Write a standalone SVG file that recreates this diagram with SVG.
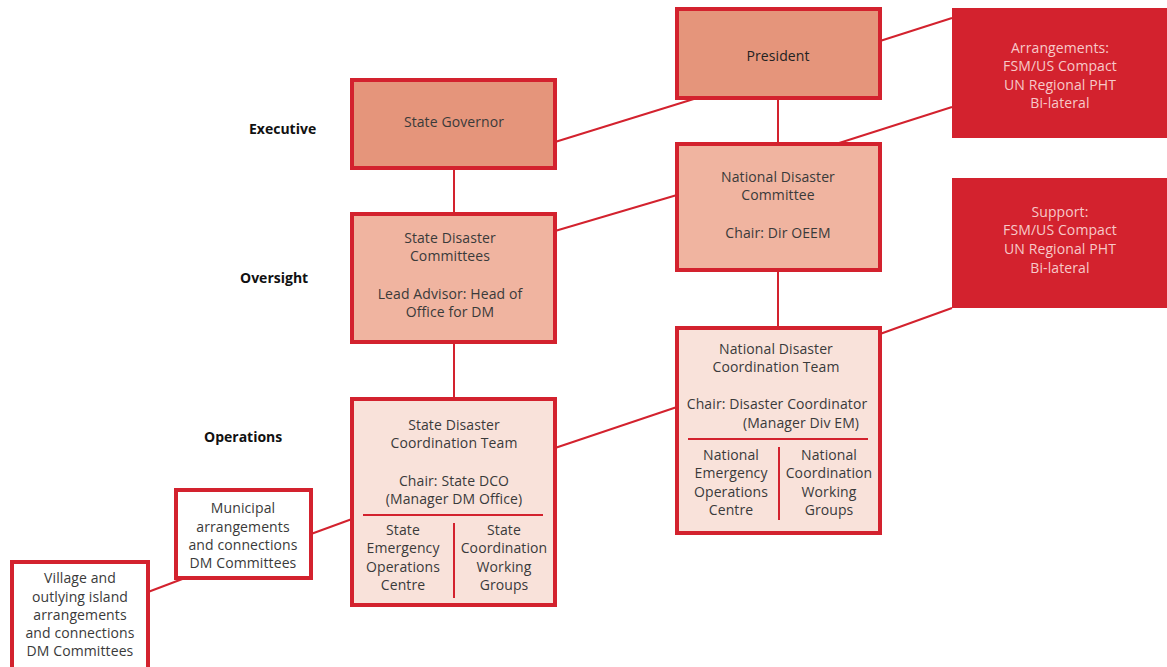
<svg xmlns="http://www.w3.org/2000/svg" width="1167" height="667" viewBox="0 0 1167 667">
<style>
.box{stroke:#d3222e;stroke-width:4}
.l1{fill:#e5957b}.l2{fill:#f0b4a0}.l3{fill:#f9e2da}
.red{fill:#d3222e}
text{font-family:"Open Sans",Lato,"Liberation Sans",sans-serif;font-size:14px;letter-spacing:0.1px;fill:#3a3a3a;text-anchor:middle}
.w{fill:#f7c9c9}
.lab{font-weight:bold;fill:#111;text-anchor:start;letter-spacing:0}
.con{stroke:#d3222e;stroke-width:2;fill:none}
</style>
<rect width="1167" height="667" fill="#fff"/>
<g id="connectors">
<line class="con" x1="880" y1="41" x2="952" y2="18"/>
<line class="con" x1="836" y1="144" x2="952" y2="107"/>
<line class="con" x1="880" y1="334" x2="952" y2="308"/>
<line class="con" x1="778" y1="98" x2="778" y2="144"/>
<line class="con" x1="778" y1="270" x2="778" y2="328"/>
<line class="con" x1="555" y1="142" x2="697" y2="98"/>
<line class="con" x1="454" y1="168" x2="454" y2="214"/>
<line class="con" x1="555" y1="231" x2="677" y2="195"/>
<line class="con" x1="454" y1="342" x2="454" y2="399"/>
<line class="con" x1="555" y1="448" x2="677" y2="407"/>
<line class="con" x1="352" y1="519" x2="311" y2="534"/>
<line class="con" x1="185" y1="578" x2="148" y2="592"/>
</g>
<g id="labels">
<text class="lab" x="249" y="134">Executive</text>
<text class="lab" x="240" y="283">Oversight</text>
<text class="lab" x="204" y="442">Operations</text>
</g>
<g id="president">
<rect class="box l1" x="677" y="9" width="203" height="89"/>
<text x="778" y="61" style="fill:#222">President</text>
</g>
<g id="governor">
<rect class="box l1" x="352" y="80" width="203" height="88"/>
<text x="454" y="127">State Governor</text>
</g>
<g id="ndc">
<rect class="box l2" x="677" y="144" width="203" height="126"/>
<text x="778" y="182">National Disaster</text>
<text x="778" y="200">Committee</text>
<text x="778" y="238">Chair: Dir OEEM</text>
</g>
<g id="sdc">
<rect class="box l2" x="352" y="214" width="203" height="128"/>
<text x="450" y="243">State Disaster</text>
<text x="450" y="261">Committees</text>
<text x="450" y="299">Lead Advisor: Head of</text>
<text x="450" y="317">Office for DM</text>
</g>
<g id="ndct">
<rect class="box l3" x="677" y="328" width="203" height="205"/>
<text x="776" y="354">National Disaster</text>
<text x="776" y="372">Coordination Team</text>
<text x="777" y="409">Chair: Disaster Coordinator</text>
<text x="801" y="428">(Manager Div EM)</text>
<line x1="688" y1="439" x2="868" y2="439" stroke="#d3222e" stroke-width="2"/>
<line x1="779" y1="447" x2="779" y2="520" stroke="#d3222e" stroke-width="2"/>
<text x="731" y="460">National</text>
<text x="731" y="478">Emergency</text>
<text x="731" y="497">Operations</text>
<text x="731" y="515">Centre</text>
<text x="829" y="460">National</text>
<text x="829" y="478">Coordination</text>
<text x="829" y="497">Working</text>
<text x="829" y="515">Groups</text>
</g>
<g id="sdct">
<rect class="box l3" x="352" y="399" width="203" height="206"/>
<text x="454" y="430">State Disaster</text>
<text x="454" y="448">Coordination Team</text>
<text x="454" y="486">Chair: State DCO</text>
<text x="454" y="504">(Manager DM Office)</text>
<line x1="363" y1="515" x2="543" y2="515" stroke="#d3222e" stroke-width="2"/>
<line x1="454" y1="523" x2="454" y2="598" stroke="#d3222e" stroke-width="2"/>
<text x="403" y="535">State</text>
<text x="403" y="553">Emergency</text>
<text x="403" y="572">Operations</text>
<text x="403" y="590">Centre</text>
<text x="504" y="535">State</text>
<text x="504" y="553">Coordination</text>
<text x="504" y="572">Working</text>
<text x="504" y="590">Groups</text>
</g>
<g id="municipal">
<rect class="box" fill="#fff" x="176" y="490" width="135" height="88"/>
<text x="243" y="513">Municipal</text>
<text x="243" y="532">arrangements</text>
<text x="243" y="550">and connections</text>
<text x="243" y="568">DM Committees</text>
</g>
<g id="village">
<rect class="box" fill="#fff" x="12" y="562" width="136" height="110"/>
<text x="80" y="583">Village and</text>
<text x="80" y="602">outlying island</text>
<text x="80" y="620">arrangements</text>
<text x="80" y="638">and connections</text>
<text x="80" y="656">DM Committees</text>
</g>
<g id="arrangements">
<rect class="red" x="952" y="8" width="215" height="130"/>
<text class="w" x="1060" y="53">Arrangements:</text>
<text class="w" x="1060" y="71">FSM/US Compact</text>
<text class="w" x="1060" y="90">UN Regional PHT</text>
<text class="w" x="1060" y="108">Bi-lateral</text>
</g>
<g id="support">
<rect class="red" x="952" y="178" width="215" height="130"/>
<text class="w" x="1060" y="217">Support:</text>
<text class="w" x="1060" y="235">FSM/US Compact</text>
<text class="w" x="1060" y="254">UN Regional PHT</text>
<text class="w" x="1060" y="273">Bi-lateral</text>
</g>
</svg>
